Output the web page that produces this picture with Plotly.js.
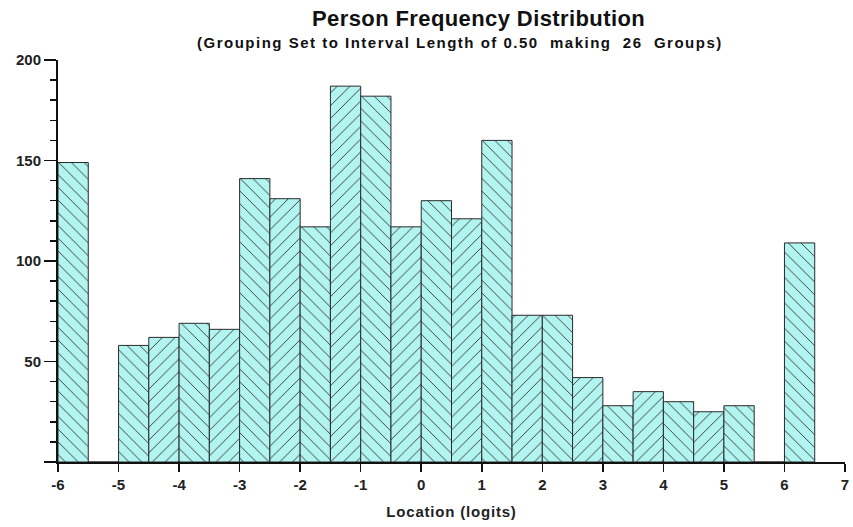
<!DOCTYPE html>
<html>
<head>
<meta charset="utf-8">
<script src="https://cdn.plot.ly/plotly-3.0.1.min.js"></script>
<style>html,body{margin:0;padding:0;background:#fff;}#chart{width:853px;height:527px;}</style>
</head>
<body>
<div id="chart"></div>
<script>
// Data: left edge of each 0.5-logit group and person counts
const binStarts = [-6, -5.5, -5, -4.5, -4, -3.5, -3, -2.5, -2, -1.5, -1, -0.5, 0, 0.5, 1, 1.5, 2, 2.5, 3, 3.5, 4, 4.5, 5, 5.5, 6];
const counts    = [149, 0, 58, 62, 69, 66, 141, 131, 117, 187, 182, 117, 130, 121, 160, 73, 73, 42, 28, 35, 30, 25, 28, 0, 109];
const xTickVals = [-6, -5, -4, -3, -2, -1, 0, 1, 2, 3, 4, 5, 6, 7];
const xTickText = ['-6', '-5', '-4', '-3', '-2', '-1', '0', '1', '2', '3', '4', '5', '6', '7'];
const yTickVals = [0, 50, 100, 150, 200];
const yTickText = ['', '50', '100', '150', '200'];
const titleText = 'Person Frequency Distribution';
const subtitleText = '(Grouping Set to Interval Length of 0.50&nbsp; making&nbsp; 26&nbsp; Groups)';
const xTitle = 'Location (logits)';

const shapes = binStarts.map(s => (Math.abs(s - Math.round(s)) < 1e-9 ? '\\' : '/'));
const cyan = '#b2f4ef';

const trace = {
  type: 'bar',
  x: binStarts,
  y: counts,
  width: 0.5,
  offset: 0,
  marker: {
    color: cyan,
    line: {color: '#2a2a2a', width: 1},
    pattern: {shape: shapes, fgcolor: '#333333', bgcolor: cyan, fillmode: 'replace', size: 9, solidity: 0.1}
  },
  hoverinfo: 'x+y'
};

const font = 'Liberation Sans, Arial, sans-serif';
const sp = (t, ls) => '<span style="letter-spacing:' + ls + 'px">' + t + '</span>';
const layout = {
  width: 853, height: 527,
  margin: {l: 58, r: 8, t: 60, b: 65},
  paper_bgcolor: '#ffffff', plot_bgcolor: '#ffffff',
  showlegend: false,
  bargap: 0,
  font: {family: font, color: '#222'},
  xaxis: {
    range: [-6, 7],
    tickvals: xTickVals, ticktext: xTickText,
    ticks: 'outside', ticklen: 8, tickwidth: 1.5, tickcolor: '#111',
    showline: true, linecolor: '#111', linewidth: 2,
    showgrid: false, zeroline: false,
    tickfont: {family: font, size: 15, color: '#222', weight: 'bold'},
    title: {text: '<b>' + sp(xTitle, 0.8) + '</b>', font: {family: font, size: 15, color: '#222'}, standoff: 14}
  },
  yaxis: {
    range: [0, 200],
    tickvals: yTickVals, ticktext: yTickText,
    ticks: 'outside', ticklen: 12, tickwidth: 1.5, tickcolor: '#111',
    minor: {dtick: 10, ticks: 'outside', ticklen: 6, tickwidth: 1.5, tickcolor: '#111', showgrid: false},
    showline: true, linecolor: '#111', linewidth: 2,
    showgrid: false, zeroline: false,
    tickfont: {family: font, size: 15, color: '#222', weight: 'bold'}
  },
  annotations: [
    {text: '<b>' + sp(titleText, 0.4) + '</b>', xref: 'paper', yref: 'paper', x: 0.534, y: 1, yshift: 42,
     xanchor: 'center', yanchor: 'middle', showarrow: false, font: {family: font, size: 22, color: '#111'}},
    {text: '<b>' + sp(subtitleText, 1.5) + '</b>', xref: 'paper', yref: 'paper', x: 0.511, y: 1, yshift: 18,
     xanchor: 'center', yanchor: 'middle', showarrow: false, font: {family: font, size: 15, color: '#111'}}
  ]
};

Plotly.newPlot('chart', [trace], layout, {displayModeBar: false, staticPlot: true});
</script>
</body>
</html>
